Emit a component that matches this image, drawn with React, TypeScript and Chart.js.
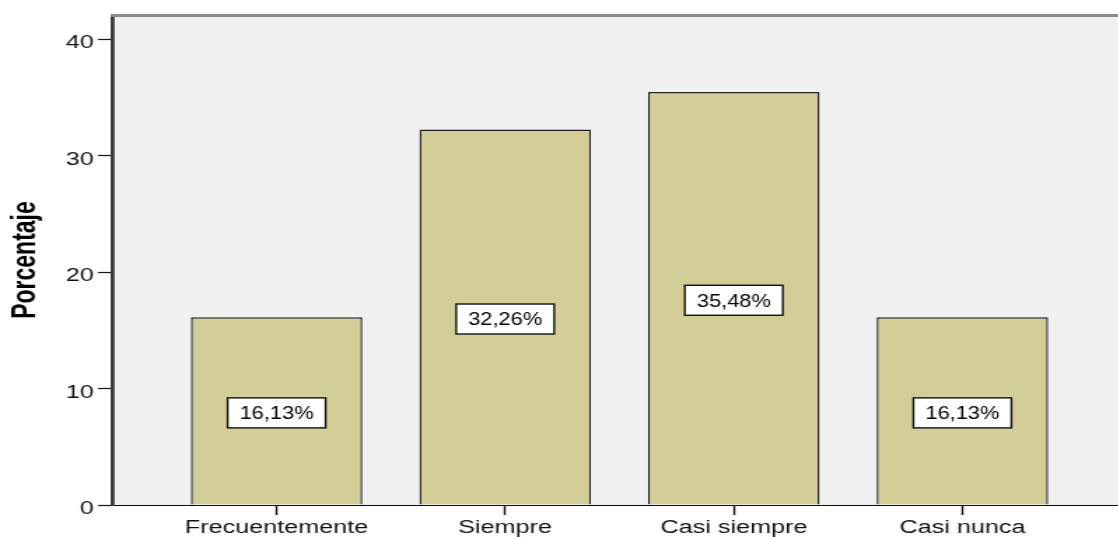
import React, { useEffect, useRef } from 'react';
import { Chart, registerables } from 'chart.js';

Chart.register(...registerables);

const categories = ['Frecuentemente', 'Siempre', 'Casi siempre', 'Casi nunca'];
const percentages = [16.13, 32.26, 35.48, 16.13];
const yTicks = [0, 10, 20, 30, 40];
const yAxisTitle = 'Porcentaje';

const STRETCH = 1.4;
const FONT = "'Liberation Sans', Arial, sans-serif";

export default function App() {
  const ref = useRef<HTMLCanvasElement>(null);

  useEffect(() => {
    const canvas = ref.current;
    if (!canvas) return;

    const bgPlugin = {
      id: 'plotBg',
      beforeDraw(chart: any) {
        const { ctx, chartArea: a } = chart;
        ctx.save();
        ctx.fillStyle = '#f0f0f0';
        ctx.fillRect(a.left, a.top, a.right - a.left, a.bottom - a.top);
        ctx.restore();
      },
      afterDraw(chart: any) {
        const { ctx, chartArea: a } = chart;
        ctx.save();
        ctx.strokeStyle = '#8c8c8c';
        ctx.lineWidth = 3;
        ctx.beginPath();
        ctx.moveTo(a.left - 1, a.top + 0.5);
        ctx.lineTo(a.right + 20, a.top + 0.5);
        ctx.stroke();
        ctx.restore();
      },
    };

    const labelPlugin = {
      id: 'barLabels',
      afterDatasetsDraw(chart: any) {
        const { ctx } = chart;
        const meta = chart.getDatasetMeta(0);
        meta.data.forEach((bar: any, i: number) => {
          const { x, y, base } = bar.getProps(['x', 'y', 'base'], true);
          const cy = (y + base) / 2 + 2;
          const w = 70;
          const h = 30;
          ctx.save();
          ctx.fillStyle = '#ffffff';
          ctx.fillRect(x - w / 2, cy - h / 2, w, h);
          ctx.strokeStyle = '#111';
          ctx.lineWidth = 1.4;
          ctx.strokeRect(x - w / 2, cy - h / 2, w, h);
          const txt = percentages[i].toFixed(2).replace('.', ',') + '%';
          ctx.translate(x, cy + 1);
          ctx.scale(0.82, 1);
          ctx.font = `19px ${FONT}`;
          ctx.fillStyle = '#000';
          ctx.textAlign = 'center';
          ctx.textBaseline = 'middle';
          ctx.fillText(txt, 0, 0);
          ctx.restore();
        });
      },
    };

    const chart = new Chart(canvas, {
      type: 'bar',
      data: {
        datasets: [
          {
            data: percentages.map((v, i) => ({ x: i, y: v })) as any,
            backgroundColor: '#d3ce97',
            borderColor: '#222222',
            borderWidth: 1.4,
            borderSkipped: 'start',
            categoryPercentage: 1,
            barPercentage: 0.75,
          },
        ],
      },
      options: {
        animation: false,
        responsive: true,
        maintainAspectRatio: false,
        layout: { padding: { top: 15, right: 10, left: 0, bottom: 0 } },
        plugins: {
          legend: { display: false },
          tooltip: { enabled: false },
        },
        scales: {
          x: {
            type: 'linear',
            min: -0.72,
            max: 3.72,
            offset: false,
            afterBuildTicks: (scale: any) => {
              scale.ticks = categories.map((_, i) => ({ value: i }));
            },
            afterFit: (scale: any) => {
              scale.height = 32;
            },
            ticks: {
              autoSkip: false,
              maxRotation: 0,
              padding: 2,
              color: '#111',
              font: { family: FONT, size: 18 },
              callback: (v: any) => categories[v] ?? '',
            },
            grid: {
              offset: false,
              drawOnChartArea: false,
              drawTicks: true,
              tickLength: 10,
              tickColor: '#111',
              tickWidth: 1.4,
            },
            border: { display: true, color: '#111', width: 1 },
          },
          y: {
            type: 'linear',
            min: 0,
            max: 42.1,
            afterBuildTicks: (scale: any) => {
              scale.ticks = yTicks.map((v) => ({ value: v }));
            },
            afterFit: (scale: any) => {
              scale.width = 80;
            },
            ticks: {
              padding: 3,
              labelOffset: 4,
              color: '#111',
              font: { family: FONT, size: 18 },
            },
            grid: {
              drawOnChartArea: false,
              drawTicks: true,
              tickLength: 10,
              tickColor: '#111',
              tickWidth: 1.2,
            },
            border: { display: true, color: '#3a3a3a', width: 2.8 },
            title: {
              display: true,
              text: yAxisTitle,
              color: '#000',
              padding: { top: 5, bottom: 0 },
              font: { family: FONT, size: 23, weight: 'bold', lineHeight: 1.2 },
            },
          },
        },
      },
      plugins: [bgPlugin, labelPlugin],
    } as any);

    return () => chart.destroy();
  }, []);

  const innerWidth = 815;
  return (
    <div
      style={{
        position: 'fixed',
        left: 0,
        top: 0,
        width: 1118,
        height: 537,
        overflow: 'hidden',
        background: '#ffffff',
      }}
    >
      <div
        style={{
          position: 'relative',
          width: innerWidth,
          height: 537,
          transform: `scaleX(${STRETCH})`,
          transformOrigin: 'left top',
        }}
      >
        <canvas ref={ref} />
      </div>
    </div>
  );
}
